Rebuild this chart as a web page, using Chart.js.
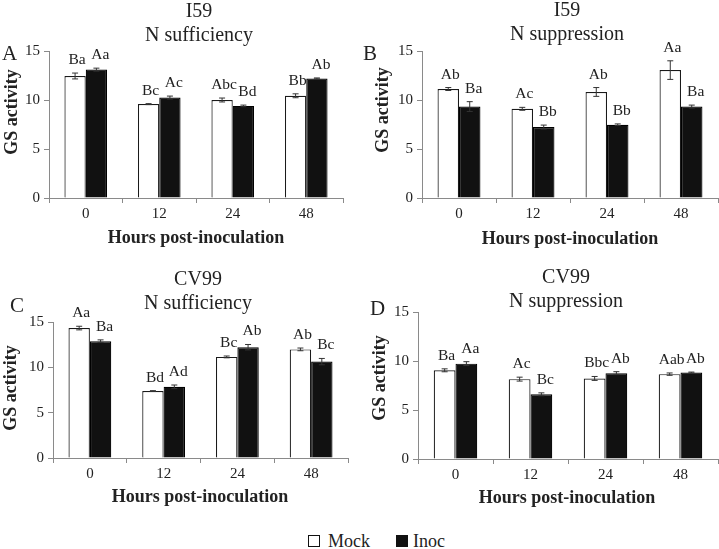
<!DOCTYPE html>
<html><head><meta charset="utf-8">
<script src="https://cdn.jsdelivr.net/npm/chart.js@4"></script>
<style>
html,body{margin:0;padding:0;background:#fff;}
body{width:719px;height:549px;position:relative;overflow:hidden;font-family:"Liberation Serif",serif;color:#222;}
canvas{position:absolute;}
.lg{position:absolute;font:18px "Liberation Serif",serif;line-height:18px;color:#222;white-space:nowrap;}
.bx{position:absolute;width:10px;height:10px;border:1px solid #111;}
</style></head>
<body>
<canvas id="cA" width="360" height="250" style="left:0;top:0"></canvas>
<canvas id="cB" width="359" height="250" style="left:360px;top:0"></canvas>
<canvas id="cC" width="360" height="270" style="left:0;top:250px"></canvas>
<canvas id="cD" width="359" height="270" style="left:360px;top:250px"></canvas>
<div class="bx" style="left:308px;top:535px;background:#fff"></div>
<div class="lg" style="left:328px;top:532px">Mock</div>
<div class="bx" style="left:396px;top:535px;background:#111"></div>
<div class="lg" style="left:413px;top:532px">Inoc</div>
<script>
// ---------- data ----------
const hours = ['0', '12', '24', '48'];
const yTicks = [0, 5, 10, 15];
const seriesNames = ['Mock', 'Inoc'];
const yAxisTitle = 'GS activity';
const xAxisTitle = 'Hours post-inoculation';

// Panel A: I59, N sufficiency
const titleA = ['I59', 'N sufficiency'];
const mockA = [12.45, 9.58, 10.0, 10.43];
const mockErrA = [0.3, 0.05, 0.2, 0.2];
const inocA = [13.1, 10.25, 9.4, 12.2];
const inocErrA = [0.15, 0.15, 0.08, 0.05];
const mockLetA = ['Ba', 'Bc', 'Abc', 'Bb'];
const inocLetA = ['Aa', 'Ac', 'Bd', 'Ab'];

// Panel B: I59, N suppression
const titleB = ['I59', 'N suppression'];
const mockB = [11.12, 9.1, 10.82, 13.05];
const mockErrB = [0.15, 0.15, 0.45, 0.95];
const inocB = [9.33, 7.24, 7.48, 9.33];
const inocErrB = [0.5, 0.2, 0.08, 0.15];
const mockLetB = ['Ab', 'Ac', 'Ab', 'Aa'];
const inocLetB = ['Ba', 'Bb', 'Bb', 'Ba'];

// Panel C: CV99, N sufficiency
const titleC = ['CV99', 'N sufficiency'];
const mockC = [14.33, 7.38, 11.15, 11.98];
const mockErrC = [0.2, 0.05, 0.1, 0.15];
const inocC = [12.88, 7.85, 12.22, 10.63];
const inocErrC = [0.15, 0.2, 0.3, 0.35];
const mockLetC = ['Aa', 'Bd', 'Bc', 'Ab'];
const inocLetC = ['Ba', 'Ad', 'Ab', 'Bc'];

// Panel D: CV99, N suppression
const titleD = ['CV99', 'N suppression'];
const mockD = [9.05, 8.15, 8.22, 8.66];
const mockErrD = [0.15, 0.2, 0.2, 0.12];
const inocD = [9.73, 6.6, 8.76, 8.82];
const inocErrD = [0.2, 0.15, 0.15, 0.05];
const mockLetD = ['Ba', 'Ac', 'Bbc', 'Aab'];
const inocLetD = ['Aa', 'Bc', 'Ab', 'Ab'];

// ---------- layout (positions only) ----------
const SERIF = '"Liberation Serif", "Times New Roman", serif';
const YW = 40; // fixed y-axis box width
const layouts = {
  A: {pad:{left:49-YW, top:51, right:17, bottom:250-198-30}, letter:{t:'A', x:2, y:60}, title:{x:199, y1:17, y2:41}, yT:{x:12, y:112}, xT:{x:196, y:243}},
  B: {pad:{left:62-YW, top:51, right:1, bottom:250-198-30}, letter:{t:'B', x:3, y:60}, title:{x:207, y1:16, y2:40}, yT:{x:23, y:110}, xT:{x:210, y:244}},
  C: {pad:{left:53-YW, top:72, right:12, bottom:270-208-30}, letter:{t:'C', x:10, y:62}, title:{x:198, y1:35, y2:59}, yT:{x:11, y:138}, xT:{x:200, y:252}},
  D: {pad:{left:58-YW, top:62, right:1, bottom:270-209-30}, letter:{t:'D', x:10, y:65}, title:{x:206, y1:33, y2:57}, yT:{x:20, y:128}, xT:{x:207, y:253}}
};
const letterShift = [2, 4]; // small horizontal nudge of significance letters (mock, inoc)

function makePlugin(L, titleLines) {
  return {
    id: 'annot',
    afterDatasetsDraw(chart) {
      const ctx = chart.ctx, y = chart.scales.y;
      chart.data.datasets.forEach((ds, di) => {
        const meta = chart.getDatasetMeta(di);
        meta.data.forEach((bar, i) => {
          const v = ds.data[i], e = ds.errors[i];
          const top = y.getPixelForValue(v + e), bot = y.getPixelForValue(v - e);
          ctx.save();
          ctx.strokeStyle = '#333'; ctx.lineWidth = 1;
          ctx.beginPath();
          ctx.moveTo(bar.x, top); ctx.lineTo(bar.x, bot);
          ctx.moveTo(bar.x - 3, top); ctx.lineTo(bar.x + 3, top);
          ctx.moveTo(bar.x - 3, bot); ctx.lineTo(bar.x + 3, bot);
          ctx.stroke();
          ctx.fillStyle = '#222';
          ctx.font = '15.5px ' + SERIF;
          ctx.textAlign = 'center'; ctx.textBaseline = 'alphabetic';
          ctx.fillText(ds.letters[i], bar.x + letterShift[di], top - 9);
          ctx.restore();
        });
      });
    },
    afterDraw(chart) {
      const ctx = chart.ctx;
      ctx.save();
      ctx.fillStyle = '#222';
      ctx.textBaseline = 'alphabetic';
      ctx.textAlign = 'center';
      ctx.font = '20px ' + SERIF;
      ctx.fillText(titleLines[0], L.title.x, L.title.y1);
      ctx.fillText(titleLines[1], L.title.x, L.title.y2);
      ctx.textAlign = 'left';
      ctx.font = '21px ' + SERIF;
      ctx.fillText(L.letter.t, L.letter.x, L.letter.y);
      ctx.textAlign = 'center';
      ctx.font = 'bold 18px ' + SERIF;
      ctx.fillText(xAxisTitle, L.xT.x, L.xT.y);
      ctx.translate(L.yT.x, L.yT.y);
      ctx.rotate(-Math.PI / 2);
      ctx.textBaseline = 'middle';
      ctx.font = 'bold 18px ' + SERIF;
      ctx.fillText(yAxisTitle, 0, 0);
      ctx.restore();
    }
  };
}

function makeChart(id, L, titleLines, mock, mockErr, mockLet, inoc, inocErr, inocLet) {
  new Chart(document.getElementById(id), {
    type: 'bar',
    data: {
      labels: hours,
      datasets: [
        {label: seriesNames[0], data: mock, errors: mockErr, letters: mockLet,
         backgroundColor: '#ffffff', borderColor: '#1a1a1a', borderWidth: 1.2, borderSkipped: 'bottom',
         categoryPercentage: 0.58, barPercentage: 1.0},
        {label: seriesNames[1], data: inoc, errors: inocErr, letters: inocLet,
         backgroundColor: '#111111', borderColor: '#000000', borderWidth: 1.2, borderSkipped: 'bottom',
         categoryPercentage: 0.58, barPercentage: 1.0}
      ]
    },
    options: {
      responsive: false,
      animation: false,
      layout: {padding: L.pad},
      plugins: {legend: {display: false}, tooltip: {enabled: false}, title: {display: false}},
      scales: {
        x: {
          grid: {display: true, drawOnChartArea: false, drawTicks: true, tickLength: 5, offset: true, color: '#8a8a8a'},
          border: {display: true, color: '#8a8a8a', width: 1},
          ticks: {color: '#222', font: {family: SERIF, size: 15}, padding: 2},
          afterFit(s) { s.height = 30; }
        },
        y: {
          min: 0, max: 15,
          afterBuildTicks(s) { s.ticks = yTicks.map(v => ({value: v})); },
          grid: {display: true, drawOnChartArea: false, drawTicks: true, tickLength: 5, color: '#8a8a8a'},
          border: {display: true, color: '#8a8a8a', width: 1},
          ticks: {color: '#222', font: {family: SERIF, size: 15}, padding: 4},
          afterFit(s) { s.width = YW; }
        }
      }
    },
    plugins: [makePlugin(L, titleLines)]
  });
}

makeChart('cA', layouts.A, titleA, mockA, mockErrA, mockLetA, inocA, inocErrA, inocLetA);
makeChart('cB', layouts.B, titleB, mockB, mockErrB, mockLetB, inocB, inocErrB, inocLetB);
makeChart('cC', layouts.C, titleC, mockC, mockErrC, mockLetC, inocC, inocErrC, inocLetC);
makeChart('cD', layouts.D, titleD, mockD, mockErrD, mockLetD, inocD, inocErrD, inocLetD);
</script>
</body></html>
